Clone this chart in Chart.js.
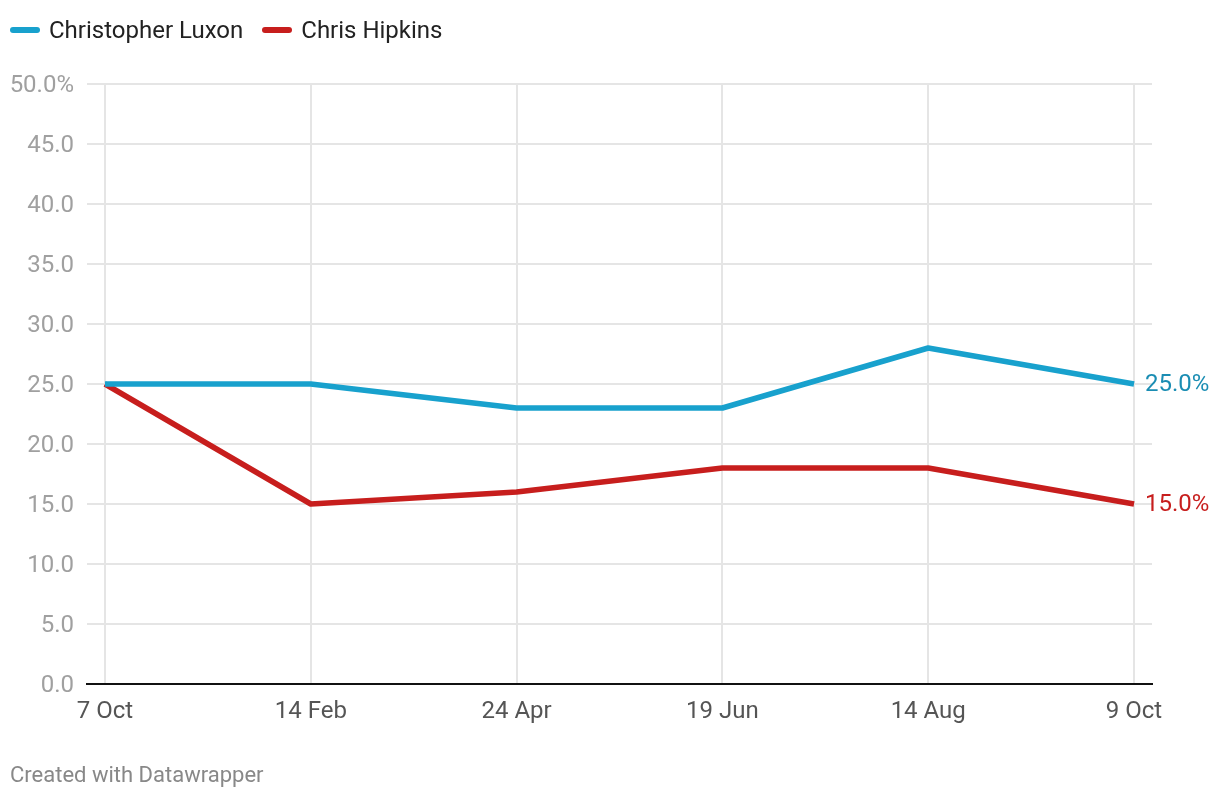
<!DOCTYPE html>
<html>
<head>
<meta charset="utf-8">
<script src="https://cdn.jsdelivr.net/npm/chart.js@4"></script>
<style>
  html,body{margin:0;padding:0;background:#fff;}
  body{width:1220px;height:800px;position:relative;overflow:hidden;font-family:Roboto,"Noto Sans",sans-serif;}
  #wrap{position:absolute;left:0;top:0;width:1220px;height:800px;}
  #legend{position:absolute;left:10px;top:16px;height:28px;display:flex;align-items:center;font-size:24px;line-height:28px;color:#222;}
  .item{display:flex;align-items:center;margin-right:19px;}
  .sw{width:30px;height:6px;border-radius:3px;margin-right:9px;}
  #footer{position:absolute;left:10px;top:762px;font-size:22px;color:#888;}
</style>
</head>
<body>
<div id="wrap"><canvas id="c" width="1220" height="800"></canvas></div>
<div id="legend"></div>
<div id="footer">Created with Datawrapper</div>
<script>
const categories = ["7 Oct","14 Feb","24 Apr","19 Jun","14 Aug","9 Oct"];
const luxon = [25,25,23,23,28,25];
const hipkins = [25,15,16,18,18,15];
const yTicks = [0,5,10,15,20,25,30,35,40,45,50];
const seriesNames = ["Christopher Luxon","Chris Hipkins"];
const seriesColors = ["#18a1cd","#c71e1d"];
const labelColors = ["#1a8db3","#c71e1d"];

const legend = document.getElementById('legend');
seriesNames.forEach((n,i)=>{
  const d=document.createElement('div');d.className='item';
  const s=document.createElement('div');s.className='sw';s.style.background=seriesColors[i];
  const t=document.createElement('span');t.textContent=n;
  d.appendChild(s);d.appendChild(t);legend.appendChild(d);
});

const endLabels = {
  id:'endLabels',
  afterDatasetsDraw(chart){
    const ctx=chart.ctx;
    ctx.save();
    ctx.font='24px Roboto, "Noto Sans", sans-serif';
    ctx.textAlign='left';ctx.textBaseline='middle';
    chart.data.datasets.forEach((ds,i)=>{
      const meta=chart.getDatasetMeta(i);
      const pt=meta.data[meta.data.length-1];
      const v=ds.data[ds.data.length-1].y;
      ctx.fillStyle=labelColors[i];
      ctx.fillText(v.toFixed(1)+'%', pt.x+11, pt.y+1);
    });
    ctx.restore();
  }
};

const mk = arr => arr.map((v,i)=>({x:i,y:v}));

new Chart(document.getElementById('c'),{
  type:'line',
  data:{datasets:[
    {label:seriesNames[0],data:mk(luxon),borderColor:seriesColors[0],borderWidth:5.5,pointRadius:0,tension:0,borderJoinStyle:'round',borderCapStyle:'butt'},
    {label:seriesNames[1],data:mk(hipkins),borderColor:seriesColors[1],borderWidth:5.5,pointRadius:0,tension:0,borderJoinStyle:'round',borderCapStyle:'butt'}
  ]},
  options:{
    responsive:false,animation:false,
    layout:{padding:{top:84,right:68,bottom:0,left:0}},
    plugins:{legend:{display:false},tooltip:{enabled:false}},
    scales:{
      x:{
        type:'linear',min:-18/206,max:categories.length-1+18/206,
        afterBuildTicks(s){s.ticks=categories.map((c,i)=>({value:i}));},
        afterFit(s){s.height=116;},
        grid:{color:'#e5e5e5',lineWidth:2,drawTicks:false},
        border:{display:true,color:'#111',width:2},
        ticks:{autoSkip:false,maxRotation:0,padding:14,color:'#555',font:{family:'Roboto',size:24},callback:(v)=>categories[v]}
      },
      y:{
        min:0,max:50,
        afterBuildTicks(s){s.ticks=yTicks.map(v=>({value:v}));},
        afterFit(s){s.width=87;},
        grid:{color:'#e5e5e5',lineWidth:2,drawTicks:false},
        border:{display:false},
        ticks:{padding:13,labelOffset:2,color:'#a0a0a0',font:{family:'Roboto',size:24},callback:(v)=> v===50 ? v.toFixed(1)+'%' : v.toFixed(1)}
      }
    }
  },
  plugins:[endLabels]
});
</script>
</body>
</html>
